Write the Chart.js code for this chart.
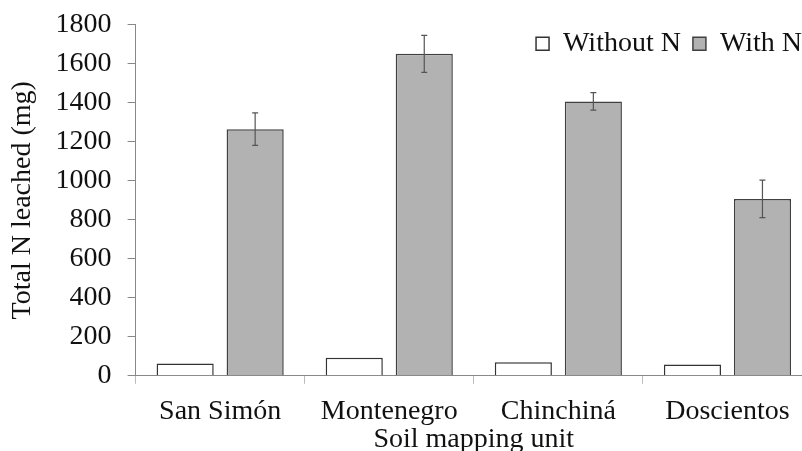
<!DOCTYPE html>
<html>
<head>
<meta charset="utf-8">
<script src="https://cdn.jsdelivr.net/npm/chart.js@4.4.1/dist/chart.umd.min.js"></script>
<style>
  html, body { margin: 0; padding: 0; background: #fff; overflow: hidden; }
  #wrap { width: 812px; height: 466px; margin-top: -8px; }
</style>
</head>
<body>
<div id="wrap"><canvas id="chart1"></canvas></div>
<script>
// data
const units = ["San Simón", "Montenegro", "Chinchiná", "Doscientos"];
const withoutN = [63, 93, 70, 58];
const withN = [1265, 1651, 1407, 907];
const withNErr = [83, 95, 45, 96];
const yTicks = [0, 200, 400, 600, 800, 1000, 1200, 1400, 1600, 1800];

const serif = "'Liberation Serif', serif";
const fsize = 28;

/*************Error bars*************/
const errorBars = {
    id: 'errorBars',
    afterDatasetsDraw(chart) {
        const ctx = chart.ctx;
        const yScale = chart.scales.y;
        chart.data.datasets.forEach(function (ds, i) {
            if (!ds.errors) return;
            const meta = chart.getDatasetMeta(i);
            meta.data.forEach(function (bar, j) {
                const v = ds.data[j], e = ds.errors[j];
                const top = yScale.getPixelForValue(v + e);
                const bot = yScale.getPixelForValue(v - e);
                ctx.save();
                ctx.strokeStyle = "#555";
                ctx.lineWidth = 1.2;
                ctx.beginPath();
                ctx.moveTo(bar.x, top); ctx.lineTo(bar.x, bot);
                ctx.moveTo(bar.x - 3, top); ctx.lineTo(bar.x + 3, top);
                ctx.moveTo(bar.x - 3, bot); ctx.lineTo(bar.x + 3, bot);
                ctx.stroke();
                ctx.restore();
            });
        });
    }
};

// legend sits over the top right of the plot: it takes no layout room,
// so move its box after layout and give it some height back
const floatLegend = {
    id: 'floatLegend',
    afterLayout(chart) {
        const lg = chart.legend;
        if (!lg) return;
        lg.top = lg.top - 7;
        lg.height = 70;
        lg.bottom = lg.top + 70;
        lg.left = lg.left + 2;
        lg.right = lg.right + 2;
    }
};

const chart1 = document.getElementById("chart1");
let barChart = new Chart(chart1, {
    type: 'bar',
    data: {
        labels: units,
        datasets: [
            {
                label: "Without N",
                data: withoutN,
                backgroundColor: "#ffffff",
                borderColor: "#333333",
                borderWidth: 1.5,
                categoryPercentage: 0.828,
                barPercentage: 0.816
            },
            {
                label: "With N",
                data: withN,
                errors: withNErr,
                backgroundColor: "#b2b2b2",
                borderColor: "#404040",
                borderWidth: 1.5,
                categoryPercentage: 0.828,
                barPercentage: 0.816
            }
        ]
    },
    options: {
        responsive: true,
        maintainAspectRatio: false,
        animation: false,
        layout: { padding: { top: 0, left: 6, right: 0, bottom: 0 } },
        plugins: {
            tooltip: { enabled: false },
            legend: {
                position: 'top',
                align: 'end',
                maxHeight: 0.001,
                labels: {
                    color: "#111",
                    font: { family: serif, size: fsize },
                    boxWidth: 13,
                    boxHeight: 13,
                    padding: 12
                }
            }
        },
        scales: {
            x: {
                grid: {
                    offset: true,
                    drawOnChartArea: false,
                    tickLength: 8,
                    color: "#bbbbbb"
                },
                border: { color: "#888888", width: 1 },
                ticks: {
                    color: "#111",
                    font: { family: serif, size: fsize },
                    padding: 11
                },
                title: {
                    display: true,
                    text: "Soil mapping unit",
                    color: "#111",
                    font: { family: serif, size: fsize },
                    padding: { top: -17, bottom: 2 }
                }
            },
            y: {
                min: 0,
                max: 1800,
                afterBuildTicks: function (axis) {
                    axis.ticks = yTicks.map(function (v) { return { value: v }; });
                },
                grid: {
                    drawOnChartArea: false,
                    tickLength: 8,
                    color: "#888888"
                },
                border: { color: "#888888", width: 1 },
                ticks: {
                    color: "#111",
                    font: { family: serif, size: fsize },
                    padding: 16,
                    callback: function (v) { return String(v); }
                },
                title: {
                    display: true,
                    text: "Total N leached (mg)",
                    color: "#111",
                    font: { family: serif, size: fsize },
                    padding: { top: 0, bottom: 0 }
                }
            }
        }
    },
    plugins: [errorBars, floatLegend]
});
</script>
</body>
</html>
